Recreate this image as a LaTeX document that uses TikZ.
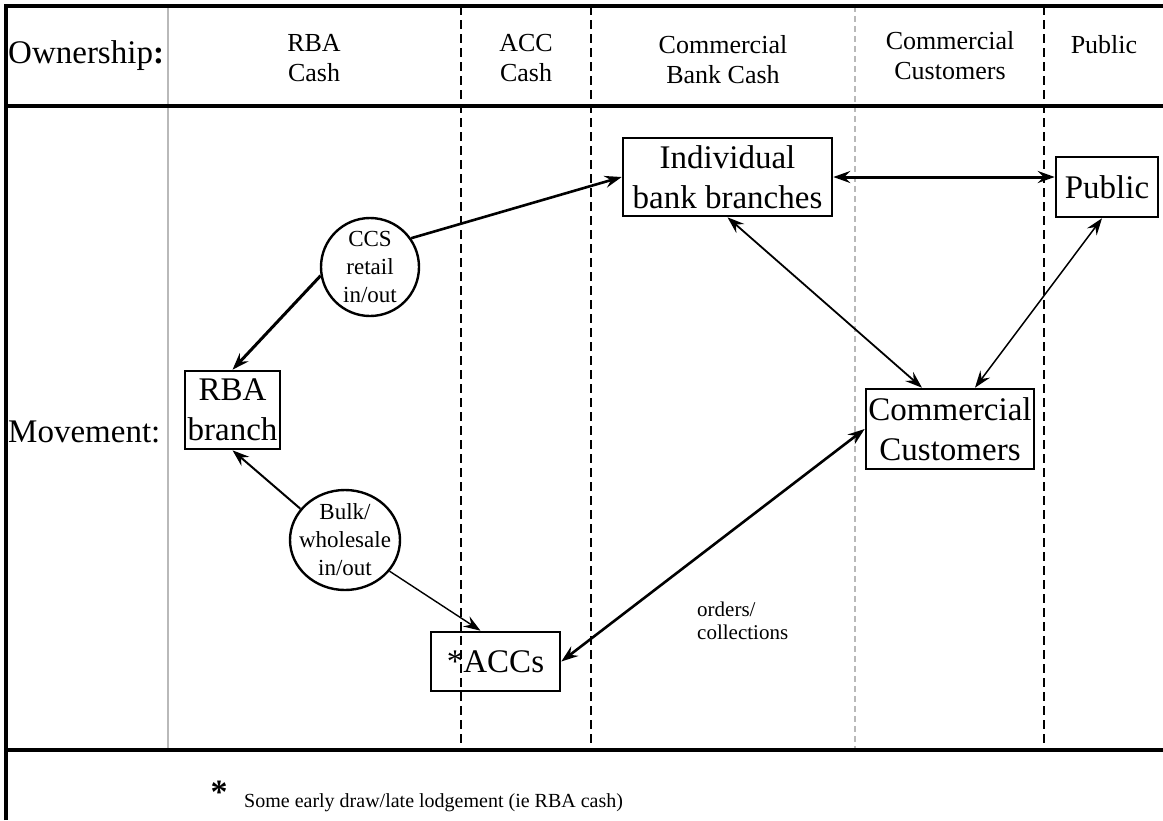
\documentclass[tikz,border=0pt]{standalone}
\usepackage{fontspec}
\setmainfont{Liberation Serif}
\usetikzlibrary{arrows.meta,shapes.geometric,calc}

\newcommand{\bigtxt}{\fontsize{33}{40}\selectfont}
\newcommand{\headtxt}{\fontsize{26}{30}\selectfont}
\newcommand{\circtxt}{\fontsize{23}{28}\selectfont}
\newcommand{\smalltxt}{\fontsize{21}{23}\selectfont}
\newcommand{\notetxt}{\fontsize{20}{22}\selectfont}

\begin{document}
\begin{tikzpicture}[
    x=1pt, y=-1pt,
    >={Stealth[length=17pt,width=12pt,inset=6pt]},
    frame/.style = {line width=4pt},
    split/.style = {line width=2.6pt, dash pattern=on 9pt off 5pt},
    faint/.style = {gray!55, line width=1.2pt},
    box/.style = {draw, line width=2.6pt, inner sep=0pt, align=center, font=\bigtxt},
    bubble/.style = {draw, #1, line width=2.4pt, inner sep=0pt},
    head/.style = {align=center, font=\headtxt},
    flow/.style = {line width=#1}
]
    \useasboundingbox (0,0) rectangle (1163,820);

    % 1. Column dividers
    \draw [faint] (168,6) -- (168,750);
    \draw [faint, dash pattern=on 6pt off 4pt] (855,6) -- (855,750);
    \foreach \x in {461,591,1044}
        \draw [split] (\x,6) -- (\x,750);

    % 2. Frame
    \draw [frame] (6,820) -- (6,6) -- (1163,6);
    \draw [frame] (6,106) -- (1163,106);
    \draw [frame] (6,750) -- (1163,750);

    % 3. Header row
    \node [anchor=west, inner sep=0pt, font=\bigtxt] (own) at (8,56) {Ownership\textbf{:}};
    \node [head] (h_rba) at (314,58) {RBA\\Cash};
    \node [head] (h_acc) at (526,58) {ACC\\Cash};
    \node [head] (h_cbc) at (723,60) {Commercial\\Bank Cash};
    \node [head] (h_cc) at (950,56) {Commercial\\Customers};
    \node [head] (h_pub) at (1104,45) {Public};
    \node [anchor=west, inner sep=0pt, font=\bigtxt] (mov) at (8,432) {Movement:};

    % 4. Places
    \node [box, minimum width=209pt, minimum height=78pt] (ibb) at (727.5,177) {Individual\\bank branches};
    \node [box, minimum width=102pt, minimum height=60pt] (pub) at (1107,187) {Public};
    \node [box, minimum width=95pt, minimum height=78pt] (rba) at (232.5,410) {RBA\\branch};
    \node [box, minimum width=168pt, minimum height=80pt] (cc) at (950,429) {Commercial\\Customers};
    \node [box, minimum width=129pt, minimum height=59pt] (acc) at (495.5,661.5) {*ACCs};

    % 5. Channels
    \node [bubble=circle, minimum size=98pt,
           label={[font=\circtxt, align=center]center:CCS\\retail\\in/out}] (ccs) at (370,267) {};
    \node [bubble=ellipse, minimum width=110pt, minimum height=100pt,
           label={[font=\circtxt, align=center]center:Bulk/\\wholesale\\in/out}] (bulk) at (345,540) {};

    % 6. Connections
    \draw [->, flow=2.6pt] (ccs.35) -- (ibb.west);
    \draw [->, flow=3pt] (ccs.190) -- (rba.north);
    \draw [<->, flow=3pt] (ibb.east) -- (ibb.east -| pub.west);
    \draw [<->, flow=1.8pt] (ibb.south) -- ([xshift=-28pt]cc.north);
    \draw [<->, flow=1.5pt] ([xshift=-5pt]pub.south) -- ([xshift=25pt]cc.north);
    \draw [->, flow=2pt] (bulk.145) -- (rba.south);
    \draw [->, flow=1.4pt] (bulk.-35) -- ([xshift=-15pt]acc.north);
    \draw [<->, flow=2.6pt] (acc.east) -- (cc.west);
    \node [anchor=west, align=left, inner sep=0pt, font=\smalltxt] (ord) at (697,621) {orders/\\collections};

    % 7. Footnote
    \node [font=\fontsize{34}{34}\selectfont\bfseries, inner sep=0pt] (star) at (219,792) {*};
    \node [anchor=west, inner sep=0pt, font=\notetxt] (note) at (244,803) {Some early draw/late lodgement (ie RBA cash)};

\end{tikzpicture}
\end{document}
